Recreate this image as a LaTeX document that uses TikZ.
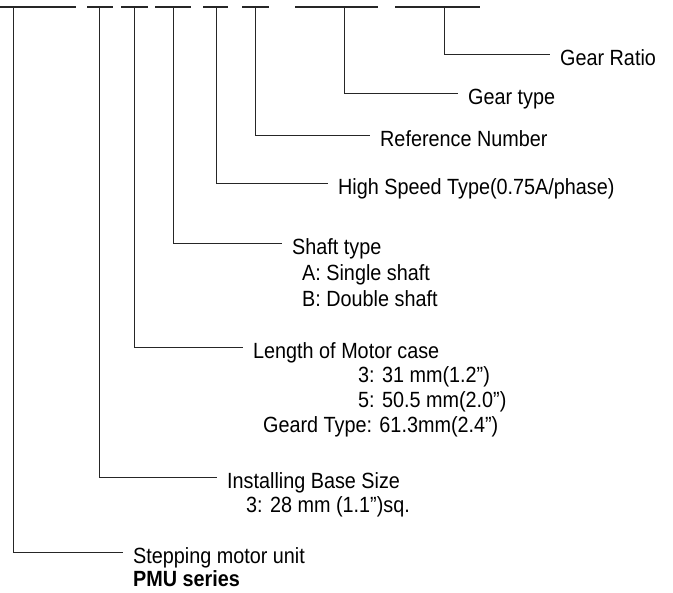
\documentclass[tikz,border=0pt]{standalone}
\usepackage{fontspec}
\setmainfont[FakeStretch=0.9]{Liberation Sans}

\begin{document}
\begin{tikzpicture}[x=1pt, y=-1pt,
  every node/.style={font=\fontsize{22}{26}\selectfont},
  lbl/.style={anchor=west, inner xsep=10pt, inner ysep=0pt, text height=24pt, text depth=0pt},
  sub/.style={anchor=base west, inner sep=0pt},
  lead/.style={draw=black!85, line width=0.8pt}]
  \useasboundingbox (0,0) rectangle (673,593);
  % underlines of the part number
  \foreach \a/\b in {0/76, 87/113, 121/148, 155/191, 203/228, 242/269, 295/378, 395/480}
    \draw[lead, line width=1.2pt] (\a,7) -- (\b,7);
  % tap points
  \coordinate (tunit) at (13,7);
  \coordinate (tbase) at (99,7);
  \coordinate (tlen) at (134,7);
  \coordinate (tshaft) at (173,7);
  \coordinate (tspeed) at (216,7);
  \coordinate (tref) at (255,7);
  \coordinate (tgear) at (344,7);
  \coordinate (tratio) at (444,7);
  % labels
  \node[lbl] (ratio) at (550,54) {Gear Ratio};
  \node[lbl] (gear) at (458,93) {Gear type};
  \node[lbl] (ref) at (370,135) {Reference Number};
  \node[lbl] (speed) at (328,183) {High Speed Type(0.75A/phase)};
  \node[lbl] (shaft) at (282,243) {Shaft type};
  \node[sub] (shafta) at (302,281) {A: Single shaft};
  \node[sub] (shaftb) at (302,307) {B: Double shaft};
  \node[lbl] (len) at (243,347) {Length of Motor case};
  \node[sub] (len3) at (358,383) {3: 31 mm(1.2”)};
  \node[sub] (len5) at (358,408) {5: 50.5 mm(2.0”)};
  \node[sub] (lengd) at (263,433) {Geard Type: 61.3mm(2.4”)};
  \node[lbl] (base) at (217,477) {Installing Base Size};
  \node[sub] (base3) at (246,513) {3: 28 mm (1.1”)sq.};
  \node[lbl] (unit) at (123,552) {Stepping motor unit};
  \node[sub] (series) at (133,587) {\bfseries PMU series};
  % leaders
  \draw[lead] (tratio) |- (ratio);
  \draw[lead] (tgear) |- (gear);
  \draw[lead] (tref) |- (ref);
  \draw[lead] (tspeed) |- (speed);
  \draw[lead] (tshaft) |- (shaft);
  \draw[lead] (tlen) |- (len);
  \draw[lead] (tbase) |- (base);
  \draw[lead] (tunit) |- (unit);
\end{tikzpicture}
\end{document}
